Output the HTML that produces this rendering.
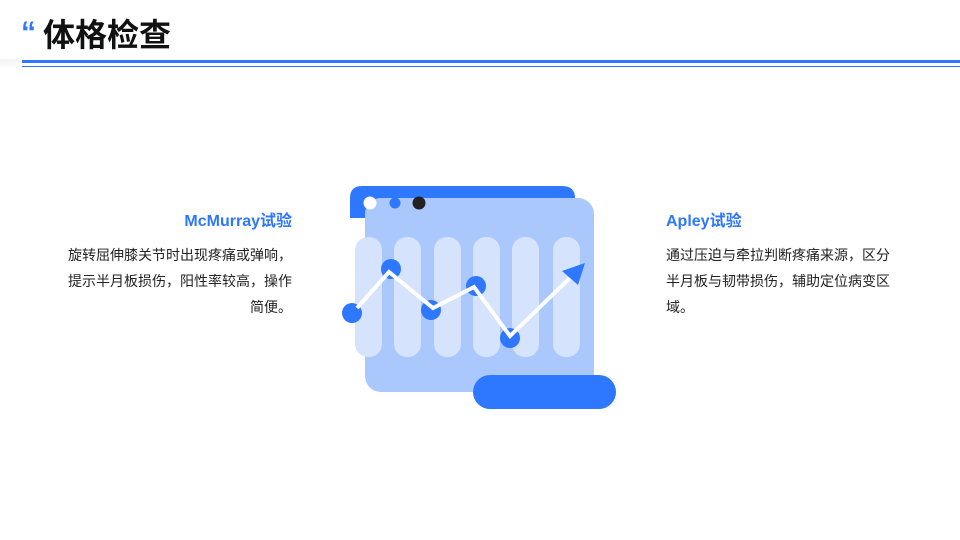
<!DOCTYPE html>
<html><head><meta charset="utf-8"><style>
body{margin:0;width:960px;height:540px;background:#fff;position:relative;overflow:hidden;font-family:"Liberation Sans","Noto Sans CJK SC",sans-serif;}
.t{position:absolute;}
h1{position:absolute;left:43px;top:14px;margin:0;font-size:32px;font-weight:bold;color:#111;line-height:42px;}
.q{position:absolute;left:21px;top:18px;font-size:30px;font-weight:900;color:#2e77ff;line-height:30px;font-family:"Liberation Sans",sans-serif;}
.h{font-size:16px;font-weight:bold;color:#2e77ff;line-height:22px;}
.p{font-size:14px;color:#222;line-height:26px;margin-top:9px;}
</style></head><body>
<div style="position:absolute;left:0;top:59px;width:22px;height:10px;background:linear-gradient(#f3f3f3,#fff)"></div>
<div class="q">“</div>
<h1>体格检查</h1>
<div style="position:absolute;left:22px;top:60px;width:938px;height:3px;background:#2e77ff"></div>
<div style="position:absolute;left:22px;top:66px;width:938px;height:1px;background:#2e77ff"></div>

<div class="t" style="left:68px;top:211px;width:224px;text-align:right">
<div class="h">McMurray试验</div>
<div class="p" style="text-align:justify;text-align-last:right">旋转屈伸膝关节时出现疼痛或弹响，提示半月板损伤，阳性率较高，操作简便。</div>
</div>
<div class="t" style="left:666px;top:211px;width:226px">
<div class="h">Apley试验</div>
<div class="p">通过压迫与牵拉判断疼痛来源，区分半月板与韧带损伤，辅助定位病变区域。</div>
</div>

<svg style="position:absolute;left:0;top:0" width="960" height="540">
<path d="M350 218 V198 Q350 186 362 186 H562 Q575 186 575 198 V218 Z" fill="#2e77ff"/>
<rect x="365" y="198" width="229" height="194" rx="16" fill="#abc8fd"/>
<circle cx="370" cy="203" r="6.5" fill="#fff"/>
<circle cx="395" cy="203" r="5.5" fill="#2e77ff"/>
<circle cx="419" cy="203" r="6.5" fill="#222"/>
<g fill="#d6e3fd">
<rect x="355" y="237" width="27" height="120" rx="13"/>
<rect x="394" y="237" width="27" height="120" rx="13"/>
<rect x="434" y="237" width="27" height="120" rx="13"/>
<rect x="473" y="237" width="27" height="120" rx="13"/>
<rect x="512" y="237" width="27" height="120" rx="13"/>
<rect x="553" y="237" width="27" height="120" rx="13"/>
</g>
<g fill="#2e77ff">
<circle cx="352" cy="313" r="10"/><circle cx="391" cy="269" r="10"/><circle cx="431" cy="310" r="10"/><circle cx="476" cy="286" r="10"/><circle cx="510" cy="338" r="10"/>
</g>
<polyline points="357,308 389,272 433,308 474,287 510,336 574,274" fill="none" stroke="#fff" stroke-width="4"/>
<polygon points="585,263 562,271 578,285" fill="#2e77ff"/>
<rect x="473" y="375" width="143" height="34" rx="17" fill="#2e77ff"/>
</svg>
</body></html>
